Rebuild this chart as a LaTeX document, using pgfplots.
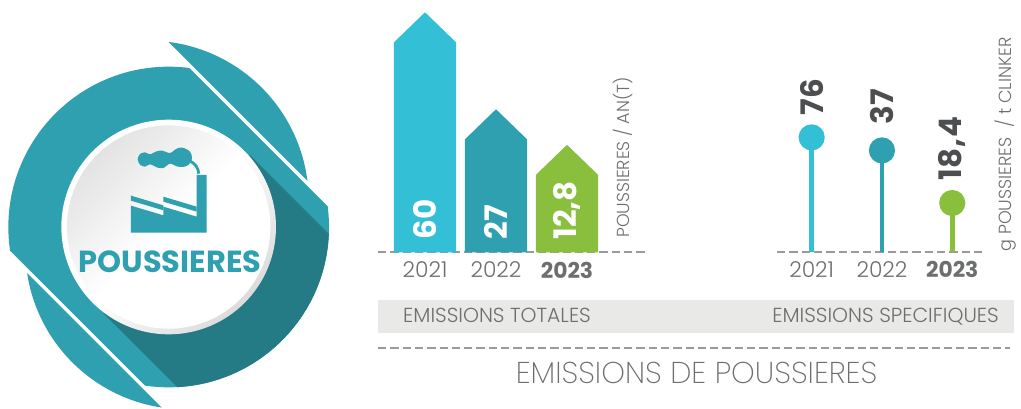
\documentclass[border=0pt]{standalone}
\usepackage{fontspec}
\usepackage{pgfplots}
\pgfplotsset{compat=1.18}
\setmainfont{Poppins}
\newfontfamily\lightf{Poppins Light}
\newfontfamily\xlightf{Poppins ExtraLight}
\newfontfamily\boldf{Poppins Bold}
\definecolor{cyanb}{HTML}{33C0D6}
\definecolor{tealb}{HTML}{2EA0AF}
\definecolor{greenb}{HTML}{8ABF3E}
\definecolor{darkt}{HTML}{247A85}
\definecolor{txt}{HTML}{6D6E70}
\definecolor{bld}{HTML}{4D4E50}
\definecolor{dashgray}{HTML}{9A9A9A}
\definecolor{band}{HTML}{E9E9E8}
\newcommand{\fs}[1]{\fontsize{#1}{#1}\selectfont}
\begin{document}
\begin{tikzpicture}
\useasboundingbox (0,0) rectangle (1021pt,408pt);
% --- logo, in reference coordinates
\begin{scope}[x=0.333333pt,y=-0.333333pt,yshift=378pt]
 \begin{scope}
  \clip (507,37) -- (1200,730) -- (1200,0) -- (507,0) -- cycle;
  \fill[tealb] (445,513) circle[radius=481];
 \end{scope}
 \begin{scope}
  \clip (82,730) -- (485,1133) -- (485,1300) -- (0,1300) -- (0,730) -- cycle;
  \fill[tealb] (557,657) circle[radius=481];
 \end{scope}
 \begin{scope}
  \clip (-100,532) -- (600,1232) -- (1300,1232) -- (1300,846) -- (454,0) -- (-100,0) -- cycle;
  \fill[tealb] (506,591) circle[radius=481];
  \begin{scope}
   \clip (506,591) circle[radius=481];
   \fill[darkt] (750,375) -- (1200,825) -- (760,1300) -- (310,850) -- cycle;
  \end{scope}
 \end{scope}
 \shade[top color=white,bottom color=white!86!black,middle color=white,shading angle=45] (506,591) circle[radius=322];
 \shade[top color=white!89!black,bottom color=white,middle color=white,shading angle=45] (506,591) circle[radius=305];
 % factory
 \fill[tealb] (393,608) -- (393,527) -- (490,556) -- (490,530) -- (590,560) -- (590,435) -- (620,435) -- (620,608) -- cycle;
 \fill[tealb] (393,497) -- (490,526) -- (490,541) -- (393,512) -- cycle;
 \fill[tealb] (490,500) -- (590,530) -- (590,545) -- (490,515) -- cycle;
 \fill[tealb] plot[smooth cycle] coordinates {(413,388) (420,372) (435,367) (450,373) (470,364) (487,362) (510,369) (530,356) (548,353) (570,365) (576,385) (565,405) (548,411) (530,409) (510,401) (490,414) (473,413) (450,403) (435,410) (420,404)};
 \draw[tealb,line width=2.8pt] (568,392) .. controls (586,400) and (596,415) .. (596,431);
 \node[text=tealb,inner sep=0pt] at (510,694) {\boldf\fs{30.5}POUSSIERES};
\end{scope}
% --- band, rule, captions
\begin{axis}[at={(0pt,0pt)},anchor=origin,x=1pt,y=1pt,xmin=0,xmax=1021,ymin=0,ymax=408,hide axis,clip=false,scale only axis]
 \addplot[fill=band,draw=none] coordinates {(378,108) (1014,108) (1014,75) (378,75)} --cycle;
 \addplot[dashgray,line width=2pt,dash pattern=on 8.3pt off 4pt] coordinates {(378,60) (1010,60)};
\end{axis}
\node[anchor=base west,text=txt,inner sep=0pt] at (403pt,85.5pt) {\lightf\fs{20.3}EMISSIONS TOTALES};
\node[anchor=base east,text=txt,inner sep=0pt] at (999pt,85.5pt) {\lightf\fs{20.3}EMISSIONS SPECIFIQUES};
\node[anchor=base,text=txt,inner sep=0pt] at (696.5pt,25pt) {\xlightf\fs{30.1}EMISSIONS DE POUSSIERES};
\node[rotate=90,anchor=west,text=txt,inner sep=0pt] at (623pt,170pt) {\lightf\fs{17.4}POUSSIERES / AN(T)};
\node[rotate=90,anchor=west,text=txt,inner sep=0pt] at (1006pt,156.3pt) {\lightf\fs{17.6}g POUSSIERES~ / t CLINKER};
% --- total emissions (bar height in the picture, printed value in the node)
\begin{axis}[at={(378pt,155.7pt)},anchor=south west,scale only axis,x=71pt,y=1pt,
  xmin=-0.662,xmax=3.14,ymin=0,ymax=250,clip=false,
  axis y line=none,axis x line=bottom,
  x axis line style={-,dashgray,line width=2pt,dash pattern=on 8.3pt off 4pt},
  xtick={0,1,2},xticklabels={2021,2022,{\boldf 2023}},major tick length=0pt,
  xticklabel style={font=\lightf\fs{21.8},text=txt,yshift=-6pt}]
 \addplot[fill=cyanb,draw=none] coordinates {(-0.437,0) (-0.437,210) (0,240) (0.437,210) (0.437,0)} --cycle;
 \addplot[fill=tealb,draw=none] coordinates {(0.563,0) (0.563,113) (1,143) (1.437,113) (1.437,0)} --cycle;
 \addplot[fill=greenb,draw=none] coordinates {(1.563,0) (1.563,77.5) (2,107.5) (2.437,77.5) (2.437,0)} --cycle;
 \node[rotate=90,anchor=west,text=white,inner sep=0pt,xshift=2.5pt] at (axis cs:0,10) {\boldf\fs{31}60};
 \node[rotate=90,anchor=west,text=white,inner sep=0pt,xshift=2.5pt] at (axis cs:1,10) {\boldf\fs{31}27};
 \node[rotate=90,anchor=west,text=white,inner sep=0pt,xshift=2.5pt] at (axis cs:2,10) {\boldf\fs{31}12,8};
\end{axis}
% --- specific emissions
\begin{axis}[at={(777pt,156.3pt)},anchor=south west,scale only axis,x=70.3pt,y=1pt,
  xmin=-0.493,xmax=2.466,ymin=0,ymax=180,clip=false,
  axis y line=none,axis x line=bottom,
  x axis line style={-,dashgray,line width=2pt,dash pattern=on 8.3pt off 4pt},
  xtick={0,1,2},xticklabels={2021,2022,{\boldf 2023}},major tick length=0pt,
  xticklabel style={font=\lightf\fs{21.8},text=txt,yshift=-6pt}]
 \addplot[ycomb,cyanb,line width=4.7pt,mark=*,mark size=10.7pt,mark options={fill=cyanb,draw=none}] coordinates {(0,114.3)};
 \addplot[ycomb,tealb,line width=4.7pt,mark=*,mark size=10.7pt,mark options={fill=tealb,draw=none}] coordinates {(1,101.3)};
 \addplot[ycomb,greenb,line width=4.7pt,mark=*,mark size=10.7pt,mark options={fill=greenb,draw=none}] coordinates {(2,48.7)};
 \node[rotate=90,anchor=west,text=bld,inner sep=0pt] at (axis cs:0,136) {\boldf\fs{31}76};
 \node[rotate=90,anchor=west,text=bld,inner sep=0pt] at (axis cs:1,127) {\boldf\fs{31}37};
 \node[rotate=90,anchor=west,text=bld,inner sep=0pt] at (axis cs:2,71) {\boldf\fs{31}18\kern1pt,\kern1pt 4};
\end{axis}
\end{tikzpicture}
\end{document}
